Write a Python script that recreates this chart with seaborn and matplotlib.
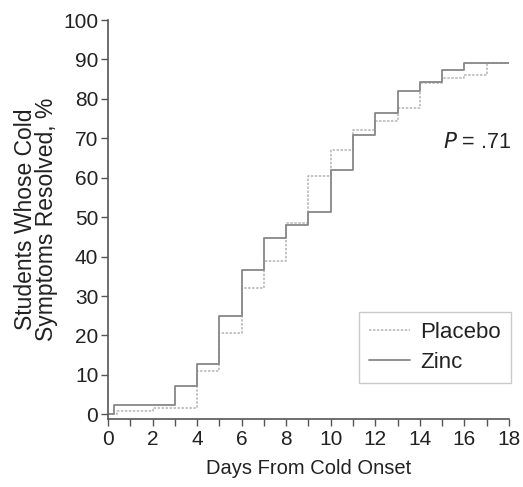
import pandas as pd
import matplotlib.pyplot as plt
import seaborn as sns
from matplotlib.ticker import MultipleLocator
from matplotlib.lines import Line2D

# step change points
zinc_days = [0, 0.25, 3, 4, 5, 6, 7, 8, 9, 10, 11, 12, 13, 14, 15, 16, 18]
zinc_pct = [0, 2.3, 7.2, 12.8, 25.0, 36.5, 44.8, 48.1, 51.3, 62.0, 70.9, 76.4, 82.1, 84.4, 87.2, 89.1, 89.1]

placebo_days = [0, 0.4, 2, 4, 5, 6, 7, 8, 9, 10, 11, 12, 13, 14, 15, 16, 17, 18]
placebo_pct = [0, 0.8, 1.6, 11.1, 20.7, 32.1, 38.8, 48.5, 60.5, 67.1, 72.2, 74.4, 77.6, 84.0, 85.2, 86.1, 89.2, 89.2]

x_ticks = [0, 2, 4, 6, 8, 10, 12, 14, 16, 18]
y_ticks = [0, 10, 20, 30, 40, 50, 60, 70, 80, 90, 100]

zinc_df = pd.DataFrame({'day': zinc_days, 'pct': zinc_pct})
placebo_df = pd.DataFrame({'day': placebo_days, 'pct': placebo_pct})

sns.set_style('ticks')
plt.rcParams['font.family'] = ['Liberation Sans', 'DejaVu Sans']

fig = plt.figure(figsize=(5.23, 4.87), dpi=100)
ax = fig.add_axes([0.2065, 0.1396, 0.9732 - 0.2065, 0.9589 - 0.1396])

placebo_color = '#b4b4b4'
zinc_color = '#878787'
placebo_dash = (0, (1.6, 1.0))

sns.lineplot(data=placebo_df, x='day', y='pct', drawstyle='steps-post', color=placebo_color,
             linewidth=1.1, linestyle=placebo_dash, ax=ax)
sns.lineplot(data=zinc_df, x='day', y='pct', drawstyle='steps-post', color=zinc_color,
             linewidth=1.3, ax=ax)

ax.set_xlim(0, 18)
ax.set_ylim(-1.2, 100)
ax.set_xticks(x_ticks)
ax.set_yticks(y_ticks)
ax.xaxis.set_minor_locator(MultipleLocator(1))
ax.tick_params(axis='both', which='both', direction='out', length=5, width=1, color='#555555',
               labelsize=15, labelcolor='#222222', pad=2)
ax.tick_params(axis='x', which='both', pad=3)

sns.despine(ax=ax)
for side in ['left', 'bottom']:
    ax.spines[side].set_color('#555555')
    ax.spines[side].set_linewidth(1.2)

ax.set_xlabel('Days From Cold Onset', fontsize=14.5, color='#222222', labelpad=7)
ax.set_ylabel('Students Whose Cold\nSymptoms Resolved, %', fontsize=16.5, color='#222222',
              labelpad=4, linespacing=0.88)

ax.text(18.1, 69, '$\\it{P}$ = .71', fontsize=15.5, ha='right', va='center', color='#222222')

handles = [Line2D([], [], color=placebo_color, linewidth=1.1, linestyle=placebo_dash),
           Line2D([], [], color=zinc_color, linewidth=1.3)]
leg = ax.legend(handles, ['Placebo', 'Zinc'], loc='lower right', bbox_to_anchor=(1.005, 0.09),
                fontsize=16, frameon=True, fancybox=False, handlelength=1.85, handletextpad=0.45,
                borderpad=0.45, labelspacing=0.4, borderaxespad=0)
leg.get_frame().set_edgecolor('#bdbdbd')
leg.get_frame().set_linewidth(1)
for t in leg.get_texts():
    t.set_color('#222222')

plt.savefig('out.png', dpi=100)
